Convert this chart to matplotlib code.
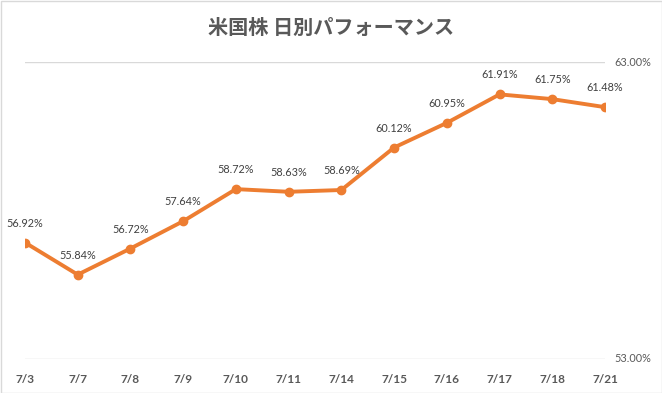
import matplotlib.pyplot as plt
from matplotlib.patches import Rectangle

plt.rcParams["font.family"] = ["Lato", "Noto Sans CJK JP", "DejaVu Sans"]

dates = ["7/3", "7/7", "7/8", "7/9", "7/10", "7/11", "7/14", "7/15", "7/16", "7/17", "7/18", "7/21"]
perf = [56.92, 55.84, 56.72, 57.64, 58.72, 58.63, 58.69, 60.12, 60.95, 61.91, 61.75, 61.48]
y_min, y_max = 53.0, 63.0
title = "米国株 日別パフォーマンス"

fig = plt.figure(figsize=(6.62, 3.93), dpi=100)
ax = fig.add_axes([25/662, 1 - 359/393, 580/662, 297/393])

x = list(range(len(dates)))
ax.plot(x, perf, color="#ED7D31", linewidth=2.8, marker="o", markersize=6,
        solid_capstyle="round", solid_joinstyle="round", zorder=3)
for xi, v in zip(x, perf):
    ax.annotate(f"{v:.2f}%", (xi, v), xytext=(0, 10), textcoords="offset points",
                ha="center", va="bottom", fontsize=7.8, color="#404040")

ax.set_xlim(0, len(dates) - 1)
ax.set_ylim(y_min, y_max)
for y in (y_min, y_max):
    ax.axhline(y, color="#D9D9D9", linewidth=1, zorder=1)
    ax.text(1.017, y, f"{y:.2f}%", transform=ax.get_yaxis_transform(),
            ha="left", va="center", fontsize=7.8, color="#595959")

ax.set_yticks([])
ax.set_xticks(x)
ax.set_xticklabels(dates, fontsize=8.5, fontweight="bold", color="#595959")
ax.tick_params(axis="x", length=0, pad=11)
for s in ax.spines.values():
    s.set_visible(False)

fig.text(0.5, 1 - 27/393, title, ha="center", va="center", fontsize=14.5,
         fontweight="bold", color="#595959", family=["Noto Sans CJK JP", "DejaVu Sans"])
fig.patches.append(Rectangle((0.5/662, 0.5/393), 661/662, 392/393, transform=fig.transFigure,
                             fill=False, edgecolor="#D9D9D9", linewidth=1))

fig.savefig("out.png", dpi=100)
